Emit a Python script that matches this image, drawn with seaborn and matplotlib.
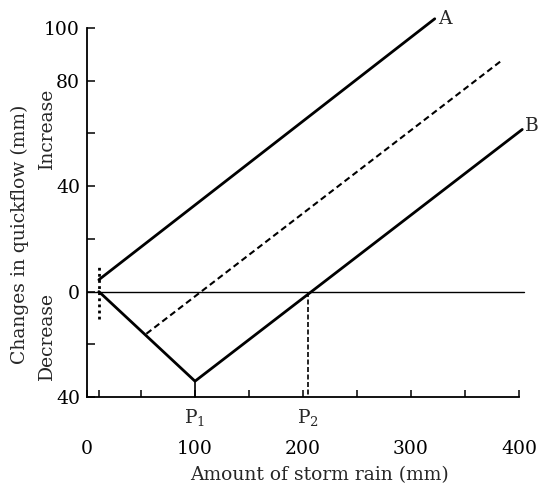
import matplotlib
matplotlib.use("Agg")
import matplotlib.pyplot as plt
import matplotlib.transforms as mtransforms
import seaborn as sns
import pandas as pd

# ---- data ----
line_A_x = [11, 322]
line_A_y = [4.5, 103.5]
dashed_x = [55, 385]
dashed_y = [-16, 88]
line_B_x = [11, 100, 403]
line_B_y = [0, -34, 61.5]
zero_x = [0, 405]
zero_y = [0, 0]
start_x = 11
start_span = [-10.5, 10.5]
P1 = 100
P2 = 205
x_major = [0, 100, 200, 300, 400]
x_major_labels = ["0", "100", "200", "300", "400"]
x_minor = [11, 50, 150, 250, 350]
y_ticks = [100, 80, 60, 40, 20, 0, -20, -40]
y_tick_labels = ["100", "80", "", "40", "", "0", "", "40"]

sns.set_theme(style="ticks")
plt.rcParams['font.family'] = ['DejaVu Serif', 'Liberation Serif']
plt.rcParams['mathtext.fontset'] = 'dejavuserif'

FS = 13.5

fig = plt.figure(figsize=(5.44, 4.84), dpi=100)
ax = fig.add_axes([87/544, 1-397/484, 432/544, 369/484])

dfA = pd.DataFrame({"x": line_A_x, "y": line_A_y})
dfD = pd.DataFrame({"x": dashed_x, "y": dashed_y})
dfB = pd.DataFrame({"x": line_B_x, "y": line_B_y})
dfZ = pd.DataFrame({"x": zero_x, "y": zero_y})

sns.lineplot(data=dfA, x="x", y="y", ax=ax, color="black", lw=2.0, sort=False, clip_on=False)
sns.lineplot(data=dfB, x="x", y="y", ax=ax, color="black", lw=2.0, sort=False, clip_on=False)
sns.lineplot(data=dfD, x="x", y="y", ax=ax, color="black", lw=1.5, sort=False,
             dashes=False, clip_on=False).lines[-1].set_dashes([3, 1.8])
sns.lineplot(data=dfZ, x="x", y="y", ax=ax, color="black", lw=1.0, sort=False, clip_on=False)

# vertical markers
ax.plot([start_x, start_x], start_span, color="black", lw=2.0, ls=(0, (1, 1.2)), clip_on=False)
ax.plot([P1, P1], [line_B_y[1], -40], color="black", lw=1.2, clip_on=False)
ax.plot([P2, P2], [0, -40], color="black", lw=1.2, ls=(0, (3, 1.5)), clip_on=False)

ax.set_xlim(0, 400)
ax.set_ylim(-40, 100)
sns.despine(ax=ax)
for s in ["left", "bottom"]:
    ax.spines[s].set_linewidth(1.3)
    ax.spines[s].set_color("black")

ax.set_xticks(x_major)
ax.set_xticklabels(x_major_labels)
ax.set_xticks(x_minor, minor=True)
ax.set_yticks(y_ticks)
ax.set_yticklabels(y_tick_labels)
ax.tick_params(axis="x", which="both", direction="in", length=5, width=1.1,
               color="black", labelsize=FS, pad=31, labelcolor="black")
ax.tick_params(axis="y", direction="in", length=6, width=1.1, color="black",
               labelsize=FS, pad=5, labelcolor="black")

trans = mtransforms.blended_transform_factory(ax.transData, ax.transAxes)
ax.text(P1, -0.055, r"$\mathrm{P}_1$", transform=trans, ha="center", va="center", fontsize=FS)
ax.text(P2, -0.055, r"$\mathrm{P}_2$", transform=trans, ha="center", va="center", fontsize=FS)

ax.text(line_A_x[-1] + 3, line_A_y[-1], "A", ha="left", va="center", fontsize=FS, clip_on=False)
ax.text(line_B_x[-1] + 3, line_B_y[-1] + 1.5, "B", ha="left", va="center", fontsize=FS, clip_on=False)

ax.set_xlabel("Amount of storm rain (mm)", fontsize=FS)
ax.xaxis.set_label_coords(0.539, -0.212)
ax.xaxis.label.set_va("center")
ax.set_ylabel("Changes in quickflow (mm)", fontsize=FS)
ax.yaxis.set_label_coords(-0.155, 0.44)
ax.yaxis.label.set_va("center")

trans_y = mtransforms.blended_transform_factory(ax.transAxes, ax.transData)
ax.text(-0.093, 62, "Increase", transform=trans_y, rotation=90, ha="center", va="center", fontsize=FS)
ax.text(-0.093, -17, "Decrease", transform=trans_y, rotation=90, ha="center", va="center", fontsize=FS)

fig.savefig("out.png", dpi=100)
